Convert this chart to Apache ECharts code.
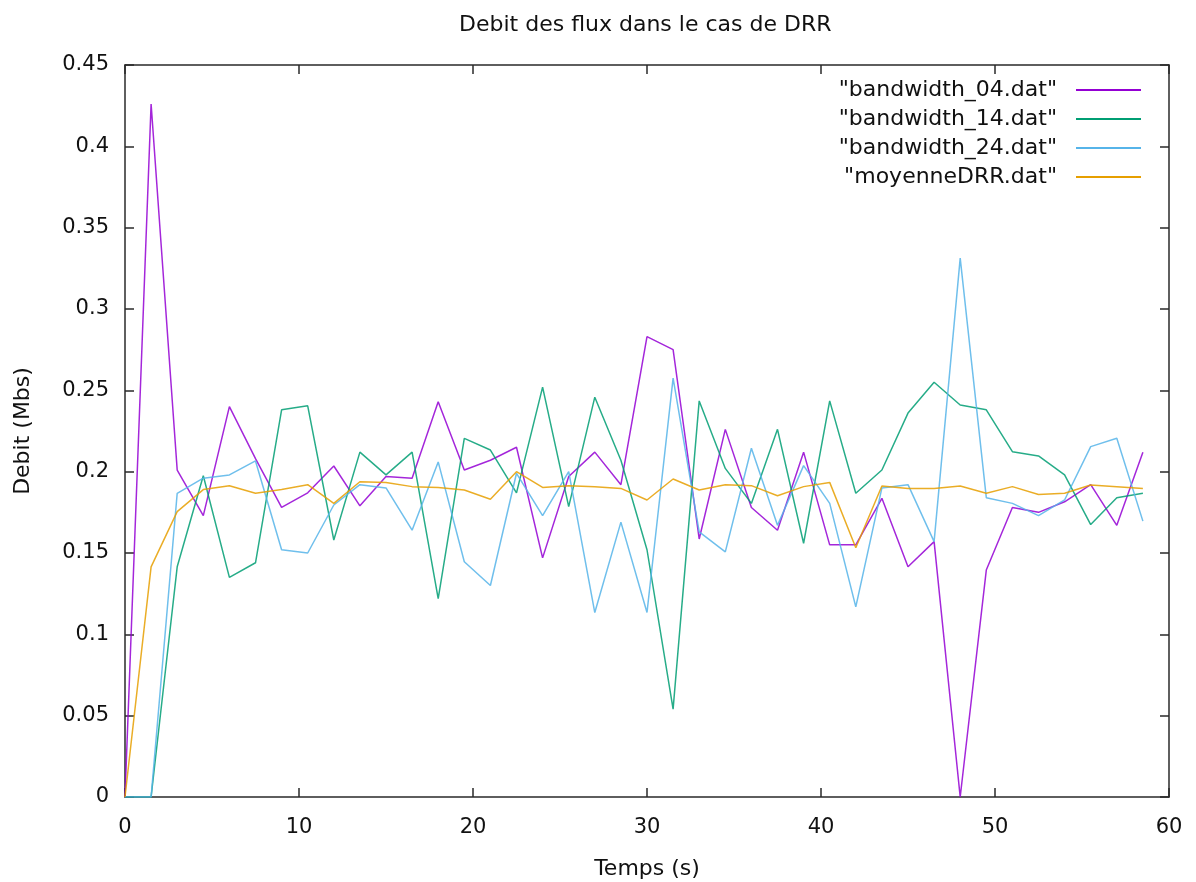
<!DOCTYPE html>
<html>
<head>
<meta charset="utf-8">
<script src="https://cdn.jsdelivr.net/npm/echarts@6/dist/echarts.min.js"></script>
<style>html,body{margin:0;padding:0;background:#fff;}#c{width:1196px;height:882px;}</style>
</head>
<body>
<div id="c"></div>
<script>
const times = [0,1.5,3,4.5,6,7.5,9,10.5,12,13.5,15,16.5,18,19.5,21,22.5,24,25.5,27,28.5,30,31.5,33,34.5,36,37.5,39,40.5,42,43.5,45,46.5,48,49.5,51,52.5,54,55.5,57,58.5];
const bw04 = [0,0.426,0.201,0.173,0.240,0.208,0.178,0.187,0.2035,0.179,0.197,0.196,0.243,0.201,0.207,0.215,0.147,0.197,0.212,0.192,0.283,0.275,0.1586,0.226,0.178,0.164,0.212,0.155,0.155,0.1836,0.1415,0.157,0,0.1395,0.178,0.175,0.1815,0.192,0.167,0.212];
const bw14 = [0,0,0.1415,0.1975,0.135,0.144,0.238,0.2405,0.158,0.212,0.198,0.212,0.122,0.2205,0.2133,0.187,0.252,0.1785,0.2458,0.207,0.152,0.054,0.2435,0.202,0.1805,0.226,0.156,0.2435,0.1867,0.201,0.236,0.255,0.241,0.238,0.2123,0.2097,0.198,0.1675,0.184,0.1867];
const bw24 = [0,0,0.1867,0.196,0.198,0.2066,0.152,0.150,0.1795,0.192,0.190,0.164,0.206,0.1446,0.130,0.199,0.173,0.200,0.1134,0.169,0.1134,0.2575,0.163,0.1507,0.2144,0.167,0.2037,0.1805,0.1169,0.190,0.192,0.157,0.3313,0.184,0.1805,0.173,0.1826,0.2154,0.2205,0.1696];
const moyenne = [0,0.1415,0.1754,0.189,0.1914,0.1867,0.189,0.192,0.1805,0.1938,0.1934,0.1908,0.1903,0.1887,0.183,0.200,0.1903,0.1914,0.1908,0.1897,0.1826,0.1955,0.1887,0.192,0.1914,0.1852,0.1908,0.1934,0.1532,0.1912,0.1897,0.1897,0.1912,0.1867,0.1908,0.186,0.1867,0.1918,0.1908,0.1897];
const seriesNames = ['"bandwidth_04.dat"','"bandwidth_14.dat"','"bandwidth_24.dat"','"moyenneDRR.dat"'];
const seriesColors = ['#9400d3','#009e73','#56b4e9','#e69f00'];
const seriesValues = [bw04, bw14, bw24, moyenne];
const titleText = 'Debit des flux dans le cas de DRR';

const FONT = 'DejaVu Sans';
const FS = 22;
const TFS = 21;
const axisCol = '#2a2a2a';
function mkX(main){
  return {type:'value', min:0, max:60, interval:10, position: main?'bottom':'top',
    axisLine:{show:true, onZero:false, lineStyle:{color:axisCol, width:1.5}},
    axisTick:{show:true, inside:true, length:9, lineStyle:{color:axisCol, width:1.5}},
    splitLine:{show:false},
    axisLabel:{show:main, fontFamily:FONT, fontSize:TFS, color:'#111', margin:20},
    name: main?'Temps (s)':'', nameLocation:'middle', nameGap:61,
    nameTextStyle:{fontFamily:FONT, fontSize:FS, color:'#111'}};
}
function mkY(main){
  return {type:'value', min:0, max:0.45, interval:0.05, position: main?'left':'right',
    axisLine:{show:true, onZero:false, lineStyle:{color:axisCol, width:1.5}},
    axisTick:{show:true, inside:true, length:9, lineStyle:{color:axisCol, width:1.5}},
    splitLine:{show:false},
    axisLabel:{show:main, fontFamily:FONT, fontSize:TFS, color:'#111', margin:16},
    name: main?'Debit (Mbs)':'', nameLocation:'middle', nameGap:91,
    nameTextStyle:{fontFamily:FONT, fontSize:FS, color:'#111'}};
}
const chart = echarts.init(document.getElementById('c'), null, {renderer:'canvas'});
chart.setOption({
  animation:false,
  backgroundColor:'#fff',
  title:{text:titleText, left:454, top:9, textStyle:{fontFamily:FONT, fontSize:FS, fontWeight:'normal', color:'#111'}},
  grid:{left:125, right:27, top:65, bottom:85, containLabel:false, outerBoundsMode:'none'},
  xAxis:[mkX(true), mkX(false)],
  yAxis:[mkY(true), mkY(false)],
  legend:{orient:'vertical', align:'right', right:50, top:74, icon:'rect', itemWidth:65, itemHeight:2, itemGap:7,
    textStyle:{fontFamily:FONT, fontSize:FS, color:'#111', padding:[0,14,0,0]},
    data:seriesNames},
  series: seriesNames.map((n,i)=>({
    name:n, type:'line', xAxisIndex:0, yAxisIndex:0, showSymbol:false, symbol:'none',
    color:seriesColors[i],
    lineStyle:{width:1.5, color:seriesColors[i], opacity:0.85},
    data: times.map((t,j)=>[t, seriesValues[i][j]])
  }))
});
</script>
</body>
</html>
